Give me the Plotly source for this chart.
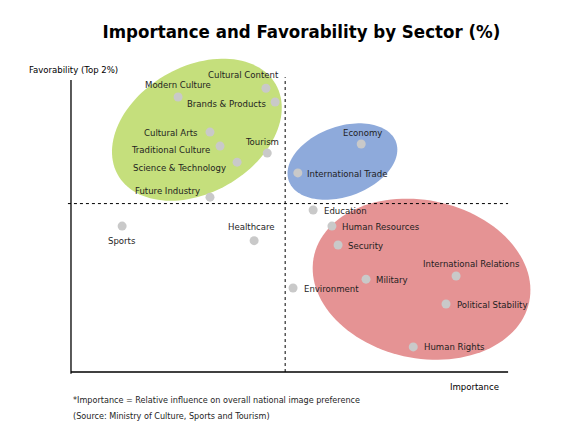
import numpy as np
import plotly.graph_objects as go

# sectors, importance (x) and favorability (y)
sectors = ["Cultural Content", "Modern Culture", "Brands & Products", "Cultural Arts",
           "Traditional Culture", "Tourism", "Science & Technology", "Future Industry",
           "Sports", "Healthcare", "Environment", "Economy", "International Trade",
           "Education", "Human Resources", "Security", "International Relations",
           "Military", "Political Stability", "Human Rights"]
importance = [44.6, 24.5, 46.7, 31.8, 34.1, 44.9, 38.0, 31.8, 11.7, 41.9,
              50.8, 66.4, 51.9, 55.4, 59.7, 61.1, 88.1, 67.5, 85.8, 78.3]
favorability = [97.2, 94.2, 92.5, 82.2, 77.4, 75.0, 71.9, 59.9, 50.0, 45.0,
                28.8, 78.1, 68.2, 55.5, 50.0, 43.5, 32.9, 31.8, 23.3, 8.6]

# where each label sits next to its dot (anchor, px right, px down)
label_anchor = ["right", "center", "right", "right", "right", "center", "right", "right",
                "center", "center", "left", "center", "left", "left", "left", "left",
                "center", "left", "left", "left"]
label_dx = [15, 0, -7, -10, -8, -5, -9, -8, 0, -3, 9, 1, 7, 9, 8, 8, 15, 8, 9, 9]
label_dy = [-14, -13, 1, 0, 3, -12, 5, -7, 14, -14, 1, -12, 1, 0, 0, 0, -12, 0, 0, 0]

# average lines
avg_importance = 49.0
avg_favorability = 57.7

# px per data unit on each axis (axis runs 0-100)
sx, sy = 4.37, 2.92

# groups: centre (data), semi-axes (px), tilt (deg), colour
groups = [
    (28.8, 83.0, 91, 63, 30, "#c5df7c"),
    (62.1, 72.1, 57, 35, 20, "#8eaadb"),
    (80.2, 31.8, 110, 79, -12, "#e59394"),
]

FONT = "DejaVu Sans Condensed, Liberation Sans Narrow, DejaVu Sans, sans-serif"
TXT = "#1e1e1e"

fig = go.Figure()

shapes = []
t = np.linspace(0, 2 * np.pi, 120)
for cx, cy, a, b, ang, col in groups:
    p = np.radians(ang)
    dx = a * np.cos(t) * np.cos(p) - b * np.sin(t) * np.sin(p)
    dy = a * np.cos(t) * np.sin(p) + b * np.sin(t) * np.cos(p)
    xs = cx + dx / sx
    ys = cy + dy / sy
    path = "M " + " L ".join(f"{x:.3f},{y:.3f}" for x, y in zip(xs, ys)) + " Z"
    shapes.append(dict(type="path", path=path, xref="x", yref="y",
                       fillcolor=col, line=dict(width=0), layer="below"))

# dotted average lines
shapes.append(dict(type="line", xref="x", yref="y", x0=avg_importance, x1=avg_importance,
                   y0=0, y1=101, line=dict(color="black", width=1, dash="dot")))
shapes.append(dict(type="line", xref="x", yref="y", x0=-0.7, x1=100,
                   y0=avg_favorability, y1=avg_favorability,
                   line=dict(color="black", width=1, dash="dot")))
# axis lines
shapes.append(dict(type="line", xref="x", yref="y", x0=0, x1=100, y0=0, y1=0,
                   line=dict(color="black", width=1.3)))
shapes.append(dict(type="line", xref="x", yref="y", x0=0, x1=0, y0=-0.6, y1=100,
                   line=dict(color="black", width=1.3)))

fig.add_trace(go.Scatter(
    x=importance, y=favorability, mode="markers",
    text=sectors, hoverinfo="text",
    marker=dict(size=9, color="#c9c9c9"),
    cliponaxis=False
))

annotations = []
for name, x, y, anc, ddx, ddy in zip(sectors, importance, favorability,
                                     label_anchor, label_dx, label_dy):
    annotations.append(dict(text=name, x=x, y=y, xref="x", yref="y", showarrow=False,
                            xanchor=anc, yanchor="middle", xshift=ddx, yshift=-ddy,
                            font=dict(family=FONT, size=9.5, color=TXT)))

annotations += [
    dict(text="Favorability (Top 2%)", xref="paper", yref="paper", x=-0.08, y=0.9536,
         xanchor="left", yanchor="middle", showarrow=False,
         font=dict(family=FONT, size=9.5, color="black")),
    dict(text="Importance", xref="paper", yref="paper", x=0.918, y=-0.0248,
         xanchor="right", yanchor="middle", showarrow=False,
         font=dict(family=FONT, size=9.5, color="black")),
    dict(text="*Importance = Relative influence on overall national image preference",
         xref="paper", yref="paper", x=0.0126, y=-0.068, xanchor="left", yanchor="middle",
         showarrow=False, font=dict(family=FONT, size=9, color=TXT)),
    dict(text="(Source: Ministry of Culture, Sports and Tourism)",
         xref="paper", yref="paper", x=0.0126, y=-0.1176, xanchor="left", yanchor="middle",
         showarrow=False, font=dict(family=FONT, size=9, color=TXT)),
]

fig.update_xaxes(range=[-1.37, 107.3], visible=False)
fig.update_yaxes(range=[-2.05, 108.6], visible=False)

fig.update_layout(
    width=572, height=422,
    margin=dict(l=57, r=40, t=47, b=52),
    plot_bgcolor="white", paper_bgcolor="white",
    showlegend=False,
    shapes=shapes,
    annotations=annotations,
    title=dict(text="<b>Importance and Favorability by Sector (%)</b>",
               x=0.513, xanchor="center", y=0.945, yanchor="middle",
               font=dict(family=FONT, size=18.5, color="black")),
)

fig.write_html("out.html")
